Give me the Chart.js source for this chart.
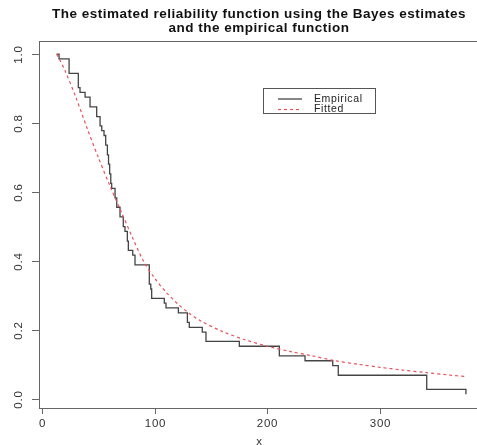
<!DOCTYPE html>
<html>
<head>
<meta charset="utf-8">
<script src="https://cdn.jsdelivr.net/npm/chart.js@4.4.1/dist/chart.umd.min.js"></script>
<style>
  html, body { margin: 0; padding: 0; background: #fff; overflow: hidden; }
  #wrap { width: 482px; height: 445px; }
</style>
</head>
<body>
<div id="wrap"><canvas id="reliability"></canvas></div>
<script>
// empirical reliability (step function)
const empTimes = [12.9, 15.1, 24, 32.2, 33.7, 38.2, 42.6, 48.5, 51.5, 53, 55, 56.5, 58, 59, 60, 61, 61.8,
  64.8, 66.3, 69.2, 72.1, 73.6, 75.7, 76.6, 80.5, 82.5, 95.2, 96.5, 97.3, 108.5, 110, 121, 129, 130.7,
  142.2, 145.5, 175.1, 210.6, 233.4, 258, 262.9, 341.4, 376.2];
const empSurvival = [1.0, 0.986, 0.944, 0.903, 0.889, 0.875, 0.847, 0.819, 0.792, 0.778, 0.764, 0.736, 0.708, 0.681, 0.653, 0.625, 0.611,
  0.583, 0.556, 0.528, 0.5, 0.486, 0.458, 0.431, 0.417, 0.389, 0.333, 0.319, 0.292, 0.278, 0.264, 0.25, 0.222, 0.208,
  0.194, 0.167, 0.153, 0.125, 0.111, 0.097, 0.069, 0.028, 0.014];

// fitted reliability (Bayes estimates)
const fitTimes = [13, 20, 30, 40, 50, 60, 70, 80, 90, 100, 110, 120, 130, 140, 160, 180, 200, 220, 240, 260, 280, 300, 320, 340, 360, 377];
const fitValues = [1.0, 0.955, 0.875, 0.785, 0.7, 0.62, 0.545, 0.47, 0.4, 0.35, 0.31, 0.277, 0.25, 0.228, 0.196, 0.172, 0.153, 0.138, 0.125, 0.111, 0.101, 0.092, 0.084, 0.077, 0.07, 0.065];

const xTicks = [0, 100, 200, 300];
const yTicks = [0, 0.2, 0.4, 0.6, 0.8, 1.0];
const titleLines = ["The estimated reliability function using the Bayes estimates", "and the empirical function"];
const xTitle = "x";

const FONT = '"Liberation Sans", Arial, Helvetica, sans-serif';

function toPoints(xs, ys) {
  return xs.map((x, i) => ({ x: x, y: ys[i] }));
}

const rAxesPlugin = {
  id: "rAxes",
  afterDraw(chart) {
    const ctx = chart.ctx;
    const area = chart.chartArea;
    const xs = chart.scales.x;
    const ys = chart.scales.y;
    ctx.save();

    // box
    ctx.strokeStyle = "#666";
    ctx.lineWidth = 1;
    ctx.strokeRect(Math.round(area.left) + 0.5, Math.round(area.top) + 0.5,
      Math.round(area.right - area.left), Math.round(area.bottom - area.top));

    // x ticks and labels
    ctx.fillStyle = "#333";
    ctx.font = "11.5px " + FONT;
    ctx.letterSpacing = "0.8px";
    ctx.textAlign = "center";
    ctx.textBaseline = "middle";
    for (const t of xTicks) {
      const px = Math.round(xs.getPixelForValue(t)) + 0.5;
      ctx.beginPath();
      ctx.moveTo(px, area.bottom);
      ctx.lineTo(px, area.bottom + 6);
      ctx.stroke();
      ctx.fillText(String(t), px, area.bottom + 16);
    }

    // y ticks and rotated labels
    for (const v of yTicks) {
      const py = Math.round(ys.getPixelForValue(v)) + 0.5;
      ctx.beginPath();
      ctx.moveTo(area.left, py);
      ctx.lineTo(area.left - 7, py);
      ctx.stroke();
      ctx.save();
      ctx.translate(area.left - 20, py);
      ctx.rotate(-Math.PI / 2);
      ctx.fillText(v.toFixed(1), 0, 0);
      ctx.restore();
    }

    // title
    const cx = (area.left + area.right) / 2;
    ctx.fillStyle = "#111";
    ctx.font = "bold 13.5px " + FONT;
    ctx.letterSpacing = "0.5px";
    ctx.fillText(titleLines[0], cx, 14);
    ctx.fillText(titleLines[1], cx, 28);

    // x axis title
    ctx.font = "11.5px " + FONT;
    ctx.letterSpacing = "0px";
    ctx.fillStyle = "#333";
    ctx.fillText(xTitle, cx, 442);

    // legend
    const lx = 263.5, ly = 88.5, lw = 112, lh = 25;
    ctx.strokeStyle = "#555";
    ctx.strokeRect(lx, ly, lw, lh);
    const ds = chart.data.datasets;
    ds.forEach((d, i) => {
      const yy = 99 + i * 10.5;
      ctx.save();
      ctx.strokeStyle = d.borderColor;
      ctx.lineWidth = d.borderWidth;
      ctx.setLineDash(d.borderDash || []);
      ctx.beginPath();
      ctx.moveTo(278, yy);
      ctx.lineTo(302, yy);
      ctx.stroke();
      ctx.restore();
      ctx.fillStyle = "#222";
      ctx.font = "10.5px " + FONT;
      ctx.letterSpacing = "0.6px";
      ctx.textAlign = "left";
      ctx.fillText(d.label, 314, yy);
    });
    ctx.restore();
  },
};

new Chart(document.getElementById("reliability"), {
  type: "scatter",
  data: {
    datasets: [
      {
        label: "Empirical",
        data: toPoints(empTimes, empSurvival),
        showLine: true,
        stepped: "before",
        borderColor: "#444",
        borderWidth: 1.3,
        pointRadius: 0,
        fill: false,
        order: 2,
      },
      {
        label: "Fitted",
        data: toPoints(fitTimes, fitValues),
        showLine: true,
        tension: 0.3,
        borderColor: "rgb(235, 80, 90)",
        borderWidth: 1.2,
        borderDash: [3, 3],
        pointRadius: 0,
        fill: false,
        order: 1,
      },
    ],
  },
  options: {
    responsive: true,
    maintainAspectRatio: false,
    animation: false,
    layout: { padding: { left: 39, top: 41, right: 3, bottom: 37 } },
    plugins: {
      legend: { display: false },
      tooltip: { enabled: false },
      title: { display: false },
    },
    scales: {
      x: { type: "linear", min: -2.7, max: 387.8, display: false },
      y: { type: "linear", min: -0.026, max: 1.038, display: false },
    },
  },
  plugins: [rAxesPlugin],
});
</script>
</body>
</html>
